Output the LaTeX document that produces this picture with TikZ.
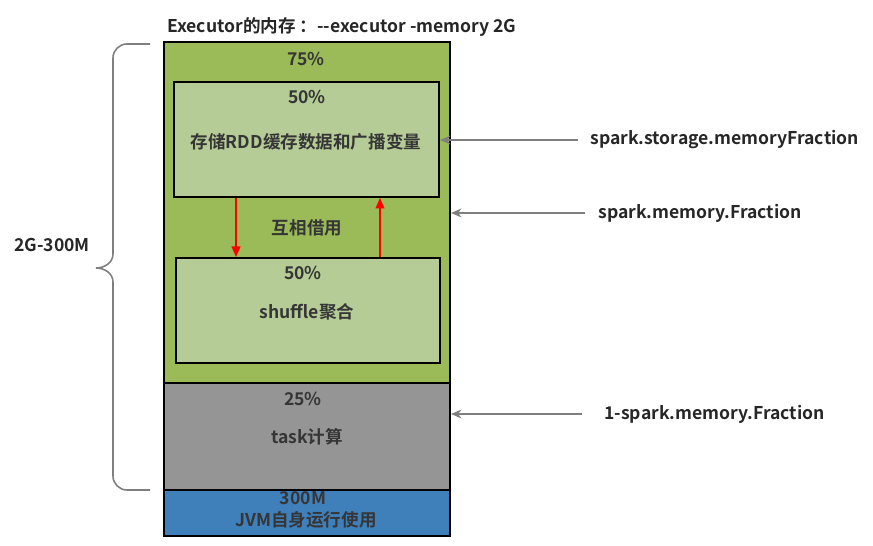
\documentclass[tikz,border=0pt]{standalone}
\usepackage{fontspec}
\setmainfont{Noto Sans CJK SC}[BoldFont={Noto Sans CJK SC Bold}]
\usetikzlibrary{arrows.meta}

\definecolor{memgreen}{HTML}{9BBB59}
\definecolor{lightgreen}{HTML}{B6CC97}
\definecolor{taskgray}{HTML}{959595}
\definecolor{jvmblue}{HTML}{3F7FBA}
\definecolor{txtgray}{HTML}{363636}
\definecolor{arrgray}{HTML}{7F7F7F}

\tikzset{
  membox/.style={draw=black, line width=1.1pt, inner sep=0pt},
  lbl/.style={font=\bfseries\fontsize{10}{12}\selectfont, text=txtgray, inner sep=0pt},
  sidelbl/.style={font=\bfseries\fontsize{10}{12}\selectfont, text=black!85, inner sep=0pt, anchor=west},
  grayarrow/.style={draw=arrgray, line width=1.1pt, -{Stealth[length=6pt,width=5pt]}},
  redarrow/.style={draw=red, line width=0.9pt, -{Triangle[length=6pt,width=5pt]}}
}

\begin{document}
\begin{tikzpicture}[x=0.02cm, y=-0.02cm]
                \useasboundingbox (0,0) rectangle (873,546);

                % Boxes
                \node[membox, fill=memgreen, minimum width=5.72cm, minimum height=6.82cm] (mem) at (307,212.5) {};
                \node[membox, fill=taskgray, minimum width=5.72cm, minimum height=2.14cm] (task) at (307,436.5) {};
                \node[membox, fill=jvmblue, minimum width=5.72cm, minimum height=0.92cm] (jvm) at (307,513) {};
                \node[membox, fill=lightgreen, minimum width=5.30cm, minimum height=2.30cm] (storage) at (306.5,139.5) {};
                \node[membox, fill=lightgreen, minimum width=5.28cm, minimum height=2.10cm] (shuffle) at (308,310.5) {};

                % Texts
                \node[lbl, text=black!85, anchor=west] (title) at (167,27) {Executor的内存 ：{-}{-}executor {-}memory 2G};
                \node[lbl] (p75) at (306,59) {75\%};
                \node[lbl] (p50a) at (307,97) {50\%};
                \node[lbl] (storagetxt) at (306,142) {存储RDD缓存数据和广播变量};
                \node[lbl] (borrow) at (307,228) {互相借用};
                \node[lbl] (p50b) at (303,273) {50\%};
                \node[lbl] (shuffletxt) at (307,312) {shuffle聚合};
                \node[lbl] (p25) at (303,399) {25\%};
                \node[lbl] (tasktxt) at (307,437) {task计算};
                \node[lbl] (m300) at (303,498) {300M};
                \node[lbl] (jvmtxt) at (306,520) {JVM自身运行使用};

                % Side labels
                \node[sidelbl] (storagefrac) at (590,140) {spark.storage.memoryFraction};
                \node[sidelbl] (memfrac) at (598,213) {spark.memory.Fraction};
                \node[sidelbl] (taskfrac) at (604,414) {1-spark.memory.Fraction};
                \node[sidelbl, anchor=center] (total) at (52,245) {2G-300M};

                % Borrowing arrows
                \coordinate (dn) at (236,0);
                \coordinate (up) at (380,0);
                \draw[redarrow] (storage.south -| dn) -- (shuffle.north -| dn);
                \draw[redarrow] (shuffle.north -| up) -- (storage.south -| up);

                % Parameter arrows
                \draw[grayarrow] ([xshift=-0.24cm]storagefrac.west) -- (storagefrac.west -| storage.east);
                \draw[grayarrow] ([xshift=-0.26cm]memfrac.west) -- (memfrac.west -| mem.east);
                \draw[grayarrow] ([xshift=-0.44cm]taskfrac.west) -- (taskfrac.west -| task.east);

                % Brace
                \draw[arrgray, line width=0.9pt] (150,44) -- (127,44) to[out=180,in=90] (113,58)
                  -- (113,254) to[out=-90,in=0] (96,268) to[out=0,in=90] (113,282)
                  -- (113,476) to[out=-90,in=180] (127,490) -- (150,490);
            \end{tikzpicture}
\end{document}
